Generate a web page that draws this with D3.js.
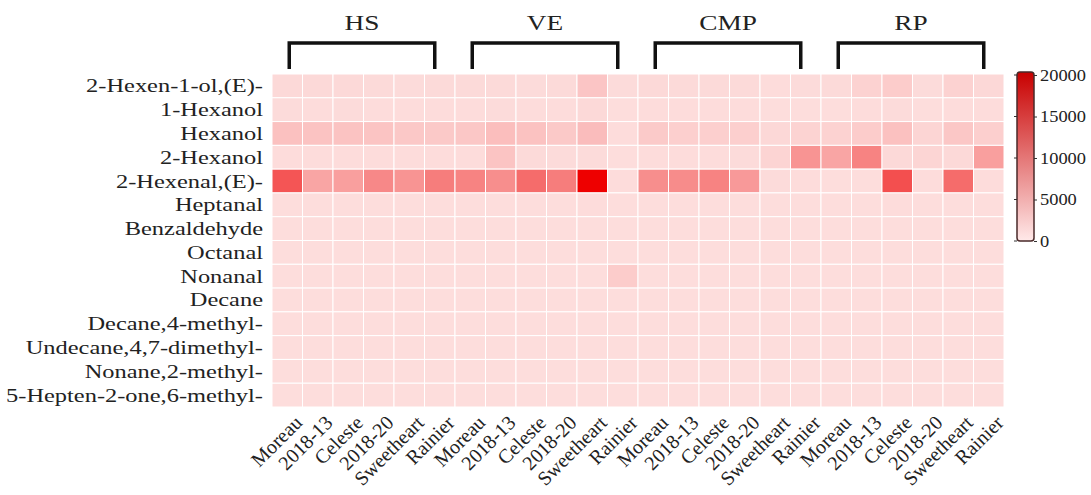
<!DOCTYPE html>
<html>
<head>
<meta charset="utf-8">
<script src="https://cdn.jsdelivr.net/npm/d3@7"></script>
<style>
  body { margin: 0; background: #fff; }
  text { font-family: "Liberation Serif", "Times New Roman", serif; fill: #222; }
</style>
</head>
<body>
<svg id="heat"></svg>
<script>
// compounds (rows) and sample labels (columns)
const compounds = [
  "2-Hexen-1-ol,(E)-", "1-Hexanol", "Hexanol", "2-Hexanol", "2-Hexenal,(E)-",
  "Heptanal", "Benzaldehyde", "Octanal", "Nonanal", "Decane",
  "Decane,4-methyl-", "Undecane,4,7-dimethyl-", "Nonane,2-methyl-", "5-Hepten-2-one,6-methyl-"
];
const groups = ["HS", "VE", "CMP", "RP"];
const cultivars = ["Moreau", "2018-13", "Celeste", "2018-20", "Sweetheart", "Rainier"];
const colorTicks = [0, 5000, 10000, 15000, 20000];

// one array per compound, 24 values = 4 groups x 6 cultivars
const values = [
  [900, 900, 900, 800, 700, 800, 800, 800, 700, 800, 2600, 700, 900, 800, 800, 800, 600, 700, 800, 1500, 2000, 700, 1500, 1000],
  [700, 600, 700, 600, 600, 600, 600, 700, 600, 600, 900, 500, 600, 600, 600, 600, 500, 500, 500, 600, 700, 500, 600, 600],
  [3000, 2800, 2800, 2700, 2400, 2300, 2500, 3300, 2900, 2300, 3400, 600, 2200, 1800, 1800, 1800, 1000, 1400, 1500, 2000, 3000, 1200, 2500, 1800],
  [600, 600, 600, 600, 600, 600, 600, 2700, 800, 700, 700, 500, 600, 600, 600, 700, 1300, 7000, 5500, 8500, 900, 1200, 900, 6000],
  [12500, 5500, 6000, 8000, 7000, 9000, 8500, 7500, 10500, 9000, 20000, 600, 7500, 7700, 8500, 6500, 700, 600, 500, 500, 13000, 600, 10500, 600],
  [500, 500, 500, 500, 500, 500, 500, 500, 500, 500, 600, 500, 500, 500, 500, 500, 500, 500, 500, 500, 600, 500, 500, 500],
  [500, 500, 500, 500, 500, 500, 500, 500, 500, 500, 500, 500, 500, 500, 500, 500, 500, 500, 500, 500, 500, 500, 500, 500],
  [500, 500, 500, 500, 500, 500, 500, 500, 500, 500, 500, 500, 500, 500, 500, 500, 500, 500, 500, 500, 500, 500, 500, 500],
  [500, 500, 500, 500, 500, 500, 500, 500, 500, 500, 500, 2000, 500, 500, 500, 500, 500, 500, 500, 500, 500, 500, 500, 500],
  [500, 500, 500, 500, 500, 500, 500, 500, 500, 500, 500, 500, 500, 500, 500, 500, 500, 500, 500, 500, 500, 500, 500, 500],
  [500, 500, 500, 500, 500, 500, 500, 500, 500, 500, 500, 500, 500, 500, 500, 500, 500, 500, 500, 500, 500, 500, 500, 500],
  [500, 500, 500, 500, 500, 500, 500, 500, 500, 500, 500, 500, 500, 500, 500, 500, 500, 500, 500, 500, 500, 500, 500, 500],
  [500, 500, 500, 500, 500, 500, 500, 500, 500, 500, 500, 500, 500, 500, 500, 500, 500, 500, 500, 500, 500, 500, 500, 500],
  [500, 500, 500, 500, 500, 500, 500, 500, 500, 500, 500, 500, 500, 500, 500, 500, 500, 500, 500, 500, 500, 500, 500, 500]
];

const width = 1091, height = 495;
const svg = d3.select("#heat").attr("width", width).attr("height", height);

// build column keys
const columns = [];
groups.forEach(g => cultivars.forEach(c => columns.push({ group: g, name: c, key: g + "_" + c })));

const x = d3.scaleBand().domain(columns.map(d => d.key)).range([272, 1004]).padding(0);
const y = d3.scaleBand().domain(compounds).range([74, 407]).padding(0);

const color = d3.scaleLinear().domain([0, 20000]).range(["#fde3e2", "#ee0000"]).clamp(true);

// cells
const cells = [];
values.forEach((row, i) => row.forEach((v, j) => cells.push({ compound: compounds[i], col: columns[j].key, value: v })));

svg.append("g").selectAll("rect")
  .data(cells)
  .enter()
  .append("rect")
  .attr("x", d => x(d.col))
  .attr("y", d => y(d.compound))
  .attr("width", x.bandwidth())
  .attr("height", y.bandwidth())
  .attr("fill", d => color(d.value))
  .attr("stroke", "#fff")
  .attr("stroke-width", 1);

// row labels (text in the original is wide, so stretch it a bit)
svg.append("g").selectAll("text")
  .data(compounds)
  .enter()
  .append("text")
  .attr("transform", d => `translate(263,${y(d) + y.bandwidth() / 2}) scale(1.32,1)`)
  .attr("dy", "0.35em")
  .attr("text-anchor", "end")
  .style("font-size", "18.5px")
  .text(d => d);

// column labels, rotated
svg.append("g").selectAll("text")
  .data(columns)
  .enter()
  .append("text")
  .attr("transform", d => `translate(${x(d.key) + x.bandwidth() / 2 + 16},${424}) rotate(-45)`)
  .attr("text-anchor", "end")
  .style("font-size", "20px")
  .text(d => d.name);

// group brackets
const bracket = svg.append("g");
groups.forEach(g => {
  const x1 = x(g + "_" + cultivars[0]) + x.bandwidth() / 2 + 2;
  const x2 = x(g + "_" + cultivars[cultivars.length - 1]) + x.bandwidth() / 2 - 5;
  bracket.append("path")
    .attr("d", `M${x1},69V43H${x2}V69`)
    .attr("fill", "none")
    .attr("stroke", "#111")
    .attr("stroke-width", 3.5);
  bracket.append("text")
    .attr("transform", `translate(${(x1 + x2) / 2},30) scale(1.3,1)`)
    .attr("text-anchor", "middle")
    .style("font-size", "21px")
    .text(g);
});

// color bar
const cb = svg.append("g");
const cbScale = d3.scaleLinear().domain([0, 20000]).range([241, 75]);
const defs = svg.append("defs");
const grad = defs.append("linearGradient")
  .attr("id", "cbGrad")
  .attr("x1", 0).attr("y1", 1).attr("x2", 0).attr("y2", 0);
d3.range(0, 1.01, 0.1).forEach(t => {
  grad.append("stop").attr("offset", t).attr("stop-color", d3.interpolateRgb("#ffe9e9", "#c80000")(t));
});
cb.append("rect")
  .attr("x", 1017)
  .attr("y", cbScale(20000) - 3)
  .attr("width", 17)
  .attr("height", cbScale(0) - cbScale(20000) + 3)
  .attr("rx", 3)
  .attr("fill", "url(#cbGrad)")
  .attr("stroke", "#4a2a2a")
  .attr("stroke-width", 1.5);

const cbAxis = d3.axisRight(cbScale).tickValues(colorTicks).tickSize(3).tickFormat(d3.format("d"));
const cbg = cb.append("g").attr("transform", "translate(1034,0)").call(cbAxis);
cbg.select(".domain").remove();
cbg.selectAll("text")
  .style("font-size", "16px")
  .style("font-family", "Liberation Serif")
  .attr("fill", "#222")
  .attr("x", 0)
  .attr("transform", "translate(6,0) scale(1.15,1)");
cbg.selectAll("line").attr("stroke", "#333");
cb.selectAll(null)
  .data(colorTicks)
  .enter()
  .append("line")
  .attr("x1", 1014).attr("x2", 1017)
  .attr("y1", d => cbScale(d)).attr("y2", d => cbScale(d))
  .attr("stroke", "#333");
</script>
</body>
</html>
